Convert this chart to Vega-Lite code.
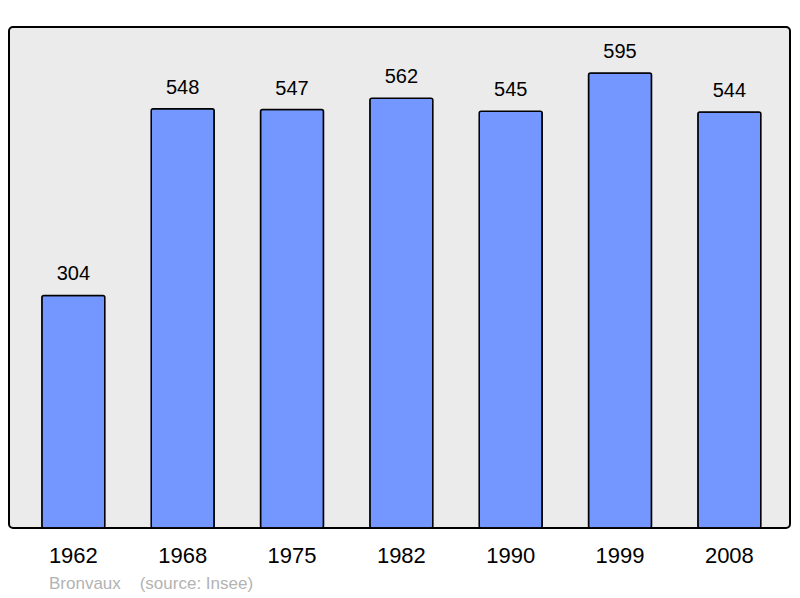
{
  "$schema": "https://vega.github.io/schema/vega-lite/v6.json",
  "width": 781,
  "height": 501,
  "autosize": {"type": "none"},
  "padding": {"left": 9, "top": 27, "right": 10, "bottom": 70},
  "background": "white",
  "config": {
    "view": {"fill": "#ebebeb", "stroke": "#000000", "strokeWidth": 2, "cornerRadius": 4},
    "font": "Liberation Sans"
  },
  "title": {
    "text": "Bronvaux\u00a0\u00a0\u00a0\u00a0(source: Insee)",
    "orient": "bottom",
    "anchor": "start",
    "dx": 40,
    "offset": 10,
    "fontSize": 17,
    "fontWeight": "normal",
    "color": "#b3b3b3",
    "font": "Liberation Sans"
  },
  "data": {
    "values": [
      {"year": "1962", "pop": 304},
      {"year": "1968", "pop": 548},
      {"year": "1975", "pop": 547},
      {"year": "1982", "pop": 562},
      {"year": "1990", "pop": 545},
      {"year": "1999", "pop": 595},
      {"year": "2008", "pop": 544}
    ]
  },
  "encoding": {
    "x": {
      "field": "year",
      "type": "ordinal",
      "scale": {"paddingInner": 0.4238, "paddingOuter": 0.2834, "align": 0.53},
      "axis": {
        "title": null,
        "domain": false,
        "ticks": false,
        "labelAngle": 0,
        "labelFontSize": 22,
        "labelColor": "#000000",
        "labelPadding": 17,
        "labelFont": "Liberation Sans"
      }
    },
    "y": {
      "field": "pop",
      "type": "quantitative",
      "scale": {"domain": [0, 655], "nice": false},
      "axis": null
    }
  },
  "layer": [
    {
      "mark": {"type": "bar", "fill": "#7396ff", "stroke": "#000000", "strokeWidth": 1.5, "cornerRadius": 2}
    },
    {
      "mark": {"type": "text", "baseline": "alphabetic", "dy": -15, "fontSize": 20, "color": "#000000", "font": "Liberation Sans"},
      "encoding": {"text": {"field": "pop", "type": "quantitative"}}
    }
  ]
}
